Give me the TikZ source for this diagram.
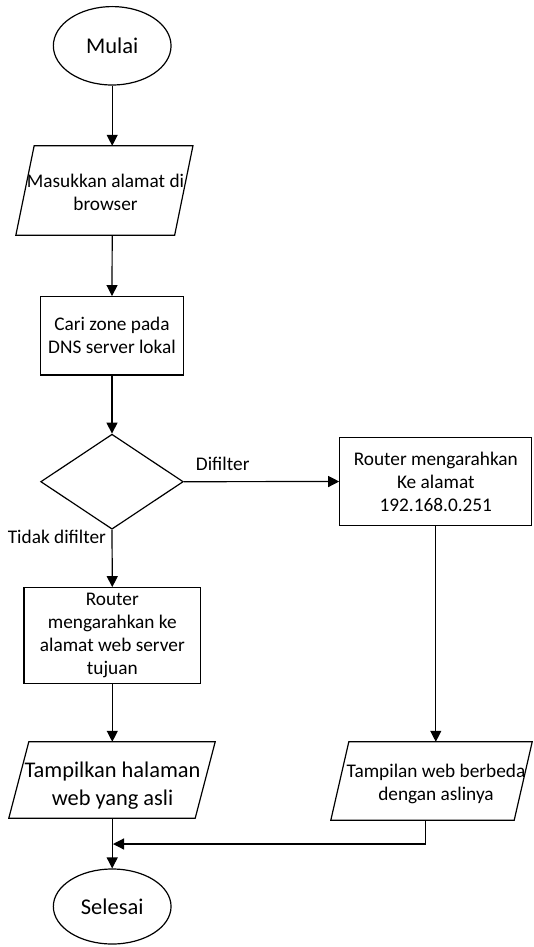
\documentclass[tikz,border=0pt]{standalone}
\usepackage{fontspec}
\setmainfont{Carlito}
\usetikzlibrary{shapes.geometric,arrows.meta,calc}
\newcommand\drawpara[2]{\draw[shp] ([xshift=#2]#1.north west) -- (#1.north east) -- ([xshift=-#2]#1.south east) -- (#1.south west) -- cycle;}
\begin{document}
\begin{tikzpicture}[x=1pt,y=-1pt,
  shp/.style={draw=black, line width=1.2pt, line join=miter},
  txt/.style={font=\fontsize{19.3}{23}\selectfont, align=center, inner sep=0pt},
  box/.style={shp, txt, rectangle},
  term/.style={shp, ellipse, inner sep=0pt, font=\fontsize{22.5}{27}\selectfont},
  dia/.style={shp, diamond, inner sep=0pt},
  iobox/.style={rectangle, inner sep=0pt},
  arr/.style={line width=1.2pt, -{Triangle[length=11pt,width=11pt]}},
  lbl/.style={font=\fontsize{19.3}{23}\selectfont, inner sep=0pt},
]
\fill[white] (0,0) rectangle (533,947);
\useasboundingbox (0,0) rectangle (533,947);

% shapes
\node[term, minimum width=117.7pt, minimum height=78.4pt] (mulai) at (112.2,45.8) {Mulai};

\node[iobox, minimum width=176.7pt, minimum height=89pt] (masuk) at (104.4,190.5) {};
\drawpara{masuk}{18.3pt}
\node[txt] (masuktxt) at (105.5,192.5) {Masukkan alamat di\\browser};

\node[box, minimum width=142.6pt, minimum height=78.3pt] (cari) at (112,335.8) {Cari zone pada\\DNS server lokal};

\node[dia, minimum width=142.6pt, minimum height=95pt] (dec) at (112,481.7) {};

\node[box, minimum width=192pt, minimum height=88.5pt] (r1) at (435.8,481.5) {Router mengarahkan\\Ke alamat\\192.168.0.251};

\node[box, minimum width=176.7pt, minimum height=95.6pt] (r2) at (112.3,635.5) {Router\\mengarahkan ke\\alamat web server\\tujuan};

\node[iobox, minimum width=206pt, minimum height=76pt] (t1) at (112,780) {};
\drawpara{t1}{20pt}
\node[txt, font=\fontsize{22.4}{28}\selectfont] (t1txt) at (112.5,785.3) {Tampilkan halaman\\web yang asli};

\node[iobox, minimum width=201pt, minimum height=78pt] (t2) at (431.5,781) {};
\drawpara{t2}{18pt}
\node[txt] (t2txt) at (436,784.1) {Tampilan web berbeda\\dengan aslinya};

\node[term, minimum width=117.7pt, minimum height=75pt] (selesai) at (112.2,906.5) {Selesai};

% connectors
\draw[arr] (mulai.south) -- (mulai.south |- masuk.north);
\draw[arr] (mulai.south |- masuk.south) -- (cari.north);
\draw[arr] (cari.south) -- (dec.north);
\draw[arr] (dec.east) -- node[lbl, pos=0.25, anchor=base, yshift=11pt] (ldif) {Difilter} (r1.west);
\draw[arr] (dec.south) -- node[lbl, pos=0.244, anchor=base east, xshift=-5.5pt] (ltd) {Tidak difilter} (r2.north);
\draw[arr] (r2.south) -- (r2.south |- t1.north);
\draw[arr] (r1.south) -- (r1.south |- t2.north);
\draw[arr] (mulai.south |- t1.south) -- (selesai.north);
\coordinate (join) at (113,844);
\draw[arr] ([xshift=-5.8pt]t2.south) |- (join);
\end{tikzpicture}
\end{document}
